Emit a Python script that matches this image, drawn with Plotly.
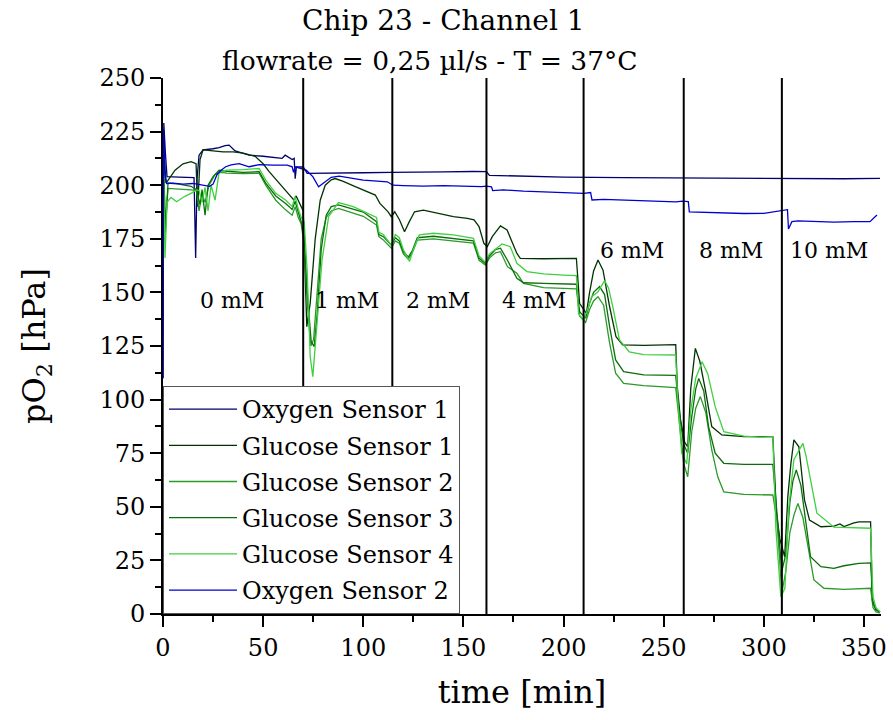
import plotly.graph_objects as go

# ---- measured series: time [min] and pO2 [hPa] ----
OX1_T = [0, 0.4, 1.2, 2, 8, 15.5, 16.3, 17.0, 18, 20, 25, 28, 31, 33, 36, 40, 43, 50, 55, 59.4, 61, 64.5, 65.5, 66, 66.6,
         70, 72, 80, 100, 114, 120, 140, 155, 160, 161.5, 163, 180, 200, 230, 260, 280, 300, 320, 340, 358]
OX1_V = [110, 229, 215, 204, 203.8, 203.5, 166, 203, 214, 216.5, 217, 217.5, 218.5, 218.7, 216, 215, 214, 213.5, 212.8,
         212.5, 214, 212, 212.5, 203, 208.5, 208.5, 205.5, 205.5, 205.8, 206, 206, 206.2, 206.4, 206.5, 206.3, 204.6,
         204.2, 203.8, 203.5, 203.3, 203.2, 203.1, 203.2, 203.0, 203.2]

OX2_T = [0, 0.3, 1.0, 1.8, 5, 10, 15, 20, 23.3, 25, 27, 29, 31.3, 34, 38, 43, 48, 55, 62, 64.5, 65.2, 66, 68, 71.5, 74.8,
         77.7, 80, 84, 88, 94.6, 100, 112, 114.8, 120, 130, 140, 150, 159, 161.5, 164, 164.6, 170, 180, 190, 200,
         210, 213.5, 214.2, 220, 230, 240, 250, 256, 259.5, 262.3, 262.8, 270, 280, 290, 300, 305, 308.5, 311.8,
         312.3, 314, 317, 325, 335, 345, 353, 356.5]
OX2_V = [110, 226, 205, 200.8, 201, 200.5, 200.8, 200.2, 199.5, 200.5, 205, 207, 208.6, 209.5, 210.1, 208.6, 209.6,
         209.4, 209.4, 208.6, 206, 208.6, 208, 207, 204, 199.3, 200.9, 203.7, 204.2, 203.2, 202.4, 201.6, 200, 199.8,
         199.6, 199.8, 199.5, 199.3, 199.6, 199.2, 197.5, 197.8, 197.2, 196.8, 196.4, 196.2, 196.6, 193.1, 193.4, 193,
         192.8, 192.5, 192.2, 192.6, 192.3, 187.6, 187.3, 187.0, 186.8, 186.9, 187.6, 188.4, 188.6, 179.6, 183, 183.4,
         183.2, 182.8, 183.0, 183, 186.1]

GLU1_T = [0, 0.5, 1.5, 3, 6, 10, 14, 16.5, 17.3, 18.5, 20, 25, 30, 35, 40, 46, 50, 53, 58, 63, 65.3, 66.5, 68, 70,
          71.8, 73.5, 76, 78.5, 81, 84, 86, 90, 96, 102, 106, 108.3, 110, 112.4, 114, 115.7, 118, 120.6, 123, 125.6,
          130, 137, 145, 152, 155.3, 157.8, 160.2, 161.9, 164.4, 168.5, 171.8, 176.7, 178.4, 190, 200, 206.4, 208,
          211.4, 213, 215, 217.2, 219.7, 223, 226.2, 229.5, 240, 256, 256.8, 258.4, 260.5, 262, 263.5, 265.8, 268,
          270.8, 274, 279, 290, 304.5, 306.3, 308, 310.4, 312, 313.5, 315, 317.5, 320.3, 322.8, 328.5, 335, 338,
          340, 345, 347.5, 353.3, 354.1, 356, 358]
GLU1_V = [222, 215, 201, 203, 207, 210, 211, 210, 190, 212, 216.5, 216, 215.5, 215.5, 215, 213.5, 210, 206.3, 200.9,
          195.5, 193.1, 195, 192, 188, 134, 145, 175, 193, 200, 202.5, 203.1, 201.8, 199.3, 197, 195.4, 191.5, 190,
          187.6, 185.3, 187.6, 184, 178.3, 183, 187.6, 188.4, 186.9, 185.3, 184.5, 183.8, 180.7, 172.9, 171.3, 176,
          181, 179.1, 168.2, 165.9, 165.7, 165.9, 165.9, 144.9, 140.2, 150, 160, 165.1, 160.4, 143.3, 129.3, 125.5,
          125.3, 125.6, 106, 90.5, 80, 78, 105, 123.9, 118, 104.5, 87.4, 83.5, 82.7, 82.7, 47, 35, 26.7, 55, 70,
          81.2, 78, 53.2, 43.8, 40.7, 41, 42, 40.8, 42.5, 43, 43, 6.5, 2, 1]

GLU2_T = [0, 0.5, 1.2, 2.5, 8, 14, 16.8, 18, 19.5, 21, 23, 26, 29, 32, 40, 48, 51.3, 56.3, 61.2, 64.5, 66, 67.5, 69,
          70.5, 72, 73.8, 75.2, 77, 79, 81.5, 84, 87.6, 95, 100, 106.6, 107.8, 110, 114, 116, 118, 120, 122.5, 124.5,
          127, 135, 145, 155, 157.8, 161, 163, 166, 168.5, 172, 176.7, 180, 190, 200, 206.4, 208, 211, 213, 215,
          217.2, 220, 223, 226, 230, 240, 256, 257.5, 260, 262, 264, 266, 268.3, 271, 274, 277, 280, 290, 304.5,
          306.5, 309, 311, 313, 315, 317, 319.5, 322, 325, 330, 340, 353.3, 354.5, 356, 358]
GLU2_V = [218, 198, 182, 198.5, 198.3, 197.8, 197.5, 188, 196, 192, 200, 205, 206, 205.6, 205.4, 205.6, 200, 193,
          188.5, 186, 190, 185, 182, 172, 145, 125, 128, 150, 175, 185, 188, 189.2, 187, 185.5, 181.4, 176, 174.5,
          170.6, 174, 173, 168, 165.5, 168.5, 174.4, 175, 174, 173, 165, 162.8, 166, 168.5, 169, 162, 158.9, 154.2,
          152.2, 151.9, 151.7, 139, 136, 142, 146, 148, 144, 126.3, 112.3, 107.6, 106.5, 105.6, 92, 70, 64, 85, 96,
          101.4, 94, 76.5, 64, 57, 55.8, 55.5, 44, 10, 20, 38, 46, 51.6, 45, 31.4, 15.9, 12, 11.5, 12, 3, 1, 0.5]

GLU3_T = [0, 0.5, 1.2, 2.5, 8, 14, 16.5, 18.5, 19.5, 21, 22.5, 25, 28, 32, 40, 48, 51.3, 56.3, 61.2, 64.5, 66, 67.5,
          69, 70.5, 72, 74, 75.5, 77, 79, 81.5, 84, 87.6, 95, 100, 106.6, 107.8, 110, 114, 116, 118, 120, 122.5,
          124.5, 127, 135, 145, 155, 157.8, 161, 163, 166, 168.5, 172, 176.7, 180, 190, 200, 206.4, 208, 211, 213,
          215, 218, 220.5, 223, 226, 230, 240, 256, 257.5, 260, 262, 264, 266, 267.5, 270, 272.4, 275.7, 280, 290,
          304.5, 306.5, 309, 311, 313, 314.5, 316.2, 318.5, 320.3, 323.3, 328.5, 335, 340, 347.5, 353.3, 354.5,
          356, 358]
GLU3_V = [219, 205, 178, 201, 200.5, 199.5, 198, 191, 198, 186, 200, 204, 207, 206.5, 206, 206.3, 201, 195, 191.5,
          188.7, 192.5, 187.5, 183, 175, 150, 127, 124.7, 140, 170, 186, 190, 190.8, 189, 187.5, 183, 177, 176, 172,
          175.5, 174, 169, 166.5, 169.5, 175.5, 176.2, 175, 174, 166, 163.5, 167, 170, 170.6, 165, 156.6, 154.5,
          154.2, 154, 153.8, 141, 138, 145, 150, 152.7, 149, 134, 118.5, 113, 111.5, 111.3, 96, 79, 75, 92, 105,
          109.9, 104, 87.4, 75, 70.3, 69.8, 69.8, 48, 20, 28, 52, 62, 67.2, 60, 47, 26.7, 22.1, 21.3, 22.5, 23.6,
          23.8, 5, 2, 1]

GLU4_T = [0, 0.4, 1.0, 2, 4, 6.8, 10.7, 14, 16.8, 18, 19.5, 21, 22.5, 24, 26, 28, 31.5, 40, 48, 51.3, 56.3, 61.2,
          64.5, 66, 67.5, 69, 70.5, 72, 73.5, 74.8, 76.5, 79.4, 82.7, 87.6, 95, 100, 106.6, 107.8, 110, 114, 116,
          118, 120, 123.1, 125, 128, 135, 145, 155, 157.8, 161, 163, 166, 169.3, 173.4, 176.7, 181.7, 190, 200,
          206.4, 207.5, 210, 212, 214, 217, 220.5, 222.5, 224.6, 227.9, 232.8, 240, 256, 257, 259, 261.5, 263.5,
          266, 269.2, 272, 275.7, 280, 290, 298, 304.5, 306, 308.5, 310.5, 312.5, 315, 319.5, 321, 323.3, 326.5,
          335, 345, 349, 353.3, 354.5, 356, 358]
GLU4_V = [220, 200, 166, 192, 194.3, 192.3, 194.7, 196.2, 197.8, 197.5, 192, 199, 188, 200, 193, 206, 207, 207.3,
          207.8, 202.4, 196.2, 193.1, 190, 194.7, 189, 185, 183, 160, 120, 110.7, 130, 165, 185.3, 191.9, 190, 188,
          185, 178, 177, 172, 177, 175.5, 170, 164.4, 170, 176.8, 177.6, 176.8, 175.2, 167, 164, 168, 170, 172.6,
          171.3, 163.6, 159.7, 158.6, 158.1, 157.8, 140, 137, 142, 148, 150, 155.5, 152, 143.3, 127.8, 122.3, 121,
          120.8, 100, 75, 70, 95, 110, 117.7, 112, 96.7, 85, 83, 82.5, 82.7, 40, 8, 12, 50, 72, 79.6, 74, 62.5, 47,
          40.5, 40.2, 40, 40, 8, 3, 1]

# glucose steps: switching times and concentration labels
STEP_TIMES = [70, 114.5, 161.5, 210, 260, 309]
CONC_LABELS = ["0 mM", "1 mM", "2 mM", "4 mM", "6 mM", "8 mM", "10 mM"]
CONC_LABEL_T = [34.2, 91.9, 137.5, 185.4, 234.3, 283.7, 332.7]
CONC_LABEL_V = [146, 146, 146, 146, 169.5, 169.5, 169.5]

X_TICKS = [0, 50, 100, 150, 200, 250, 300, 350]
Y_TICKS = [0, 25, 50, 75, 100, 125, 150, 175, 200, 225, 250]

FONT = "DejaVu Serif"

series = [
    ("Oxygen Sensor 1", OX1_T, OX1_V, "#00006e"),
    ("Glucose Sensor 1", GLU1_T, GLU1_V, "#003300"),
    ("Glucose Sensor 2", GLU2_T, GLU2_V, "#2a9a2a"),
    ("Glucose Sensor 3", GLU3_T, GLU3_V, "#0b6e0b"),
    ("Glucose Sensor 4", GLU4_T, GLU4_V, "#3fd03f"),
    ("Oxygen Sensor 2", OX2_T, OX2_V, "#0000d0"),
]

fig = go.Figure()
for i, (name, t, v, col) in enumerate(series):
    assert len(t) == len(v), (name, len(t), len(v))
    fig.add_trace(go.Scatter(x=t, y=v, mode="lines", name=name, legendgroup=f"g{i}",
                             line=dict(color=col, width=1.3)))

for ts in STEP_TIMES:
    fig.add_shape(type="line", xref="x", yref="y", x0=ts, x1=ts, y0=0, y1=250,
                  line=dict(color="black", width=2))

for lab, tx, ty in zip(CONC_LABELS, CONC_LABEL_T, CONC_LABEL_V):
    fig.add_annotation(x=tx, y=ty, xref="x", yref="y", text=lab, showarrow=False,
                       font=dict(family=FONT, size=22, color="black"))

# two-line heading (paper coordinates, above the plot area)
fig.add_annotation(x=0.391, y=1.108, xref="paper", yref="paper", xanchor="center", yanchor="middle",
                   text="Chip 23 - Channel 1", showarrow=False,
                   font=dict(family=FONT, size=28, color="black"))
fig.add_annotation(x=0.372, y=1.032, xref="paper", yref="paper", xanchor="center", yanchor="middle",
                   text="flowrate = 0,25 µl/s - T = 37°C", showarrow=False,
                   font=dict(family=FONT, size=26.5, color="black"))

fig.update_layout(
    width=893, height=720,
    margin=dict(l=163, r=6, t=78, b=106),
    paper_bgcolor="white", plot_bgcolor="white",
    font=dict(family=FONT, color="black"),
    showlegend=True,
    legend=dict(x=0, y=0, xanchor="left", yanchor="bottom", bgcolor="white",
                bordercolor="#555555", borderwidth=1, font=dict(family=FONT, size=24, color="black"),
                traceorder="grouped", tracegroupgap=2, itemwidth=68),
    xaxis=dict(range=[0, 358.5], tickvals=X_TICKS, ticks="outside", ticklen=11, tickwidth=2,
               tickcolor="black", showline=True, linecolor="black", linewidth=2, showgrid=False,
               zeroline=False, tickfont=dict(family=FONT, size=24, color="black"),
               minor=dict(dtick=25, tick0=0, ticks="outside", ticklen=6, tickwidth=2, tickcolor="black"),
               title=dict(text="time [min]", font=dict(family=FONT, size=32, color="black"), standoff=20)),
    yaxis=dict(range=[0, 250], tickvals=Y_TICKS, ticks="outside", ticklen=11, tickwidth=2,
               tickcolor="black", showline=True, linecolor="black", linewidth=2, showgrid=False,
               zeroline=False, tickfont=dict(family=FONT, size=24, color="black"),
               minor=dict(dtick=12.5, tick0=0, ticks="outside", ticklen=6, tickwidth=2, tickcolor="black"),
               title=dict(text="pO<sub>2</sub> [hPa]", font=dict(family=FONT, size=32, color="black"), standoff=44)),
)

fig.write_html("out.html")
